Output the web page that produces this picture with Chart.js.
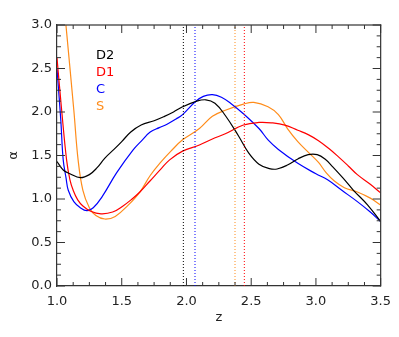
<!DOCTYPE html>
<html>
<head>
<meta charset="utf-8">
<script src="https://cdn.jsdelivr.net/npm/chart.js@4.4.0/dist/chart.umd.min.js"></script>
<style>
  html, body { margin: 0; padding: 0; background: #fff; }
</style>
</head>
<body>
<canvas id="chart" width="399" height="337"></canvas>
<script>
// series (z, alpha)
const seriesNames = ['D2', 'D1', 'C', 'S'];
const seriesColors = ['#000000', '#ff0000', '#0000ff', '#ff8c1a'];

const d2Z = [1.0, 1.05, 1.1, 1.18, 1.25, 1.31, 1.37, 1.44, 1.50, 1.57, 1.65, 1.75, 1.83, 1.90, 1.97, 2.07, 2.15, 2.22, 2.30, 2.40, 2.48, 2.56, 2.64, 2.70, 2.78, 2.86, 2.94, 3.01, 3.07, 3.13, 3.21, 3.29, 3.40, 3.50];
const d2A = [1.43, 1.33, 1.29, 1.245, 1.28, 1.36, 1.47, 1.57, 1.66, 1.77, 1.85, 1.90, 1.95, 2.00, 2.06, 2.12, 2.14, 2.10, 1.96, 1.73, 1.53, 1.40, 1.35, 1.345, 1.39, 1.46, 1.51, 1.51, 1.46, 1.37, 1.24, 1.10, 0.93, 0.74];

const d1Z = [1.0, 1.036, 1.074, 1.10, 1.125, 1.16, 1.20, 1.26, 1.34, 1.43, 1.51, 1.58, 1.64, 1.72, 1.80, 1.87, 1.97, 2.10, 2.20, 2.30, 2.44, 2.56, 2.66, 2.76, 2.86, 2.94, 3.02, 3.10, 3.17, 3.25, 3.32, 3.42, 3.50];
const d1A = [2.62, 2.02, 1.45, 1.22, 1.10, 0.99, 0.92, 0.86, 0.83, 0.85, 0.92, 1.00, 1.08, 1.21, 1.34, 1.45, 1.55, 1.62, 1.69, 1.75, 1.85, 1.88, 1.875, 1.85, 1.79, 1.74, 1.67, 1.58, 1.49, 1.38, 1.28, 1.17, 1.07];

const cZ = [1.0, 1.015, 1.03, 1.048, 1.07, 1.087, 1.13, 1.18, 1.23, 1.28, 1.35, 1.46, 1.585, 1.66, 1.72, 1.79, 1.85, 1.92, 1.97, 2.07, 2.13, 2.20, 2.27, 2.35, 2.44, 2.56, 2.63, 2.71, 2.86, 3.00, 3.09, 3.20, 3.32, 3.42, 3.50];
const cA = [2.50, 2.20, 1.89, 1.45, 1.24, 1.10, 0.97, 0.90, 0.866, 0.90, 1.03, 1.30, 1.56, 1.68, 1.77, 1.82, 1.86, 1.92, 1.97, 2.12, 2.18, 2.20, 2.17, 2.09, 1.98, 1.81, 1.68, 1.57, 1.41, 1.29, 1.22, 1.10, 0.97, 0.85, 0.74];

const sZ = [1.0, 1.069, 1.13, 1.163, 1.20, 1.25, 1.30, 1.37, 1.45, 1.55, 1.64, 1.72, 1.80, 1.88, 1.97, 2.10, 2.20, 2.30, 2.44, 2.52, 2.63, 2.71, 2.78, 2.86, 2.95, 3.02, 3.08, 3.14, 3.22, 3.32, 3.42, 3.50];
const sA = [4.1, 3.0, 2.02, 1.45, 1.10, 0.90, 0.81, 0.77, 0.80, 0.93, 1.08, 1.27, 1.42, 1.55, 1.68, 1.81, 1.95, 2.02, 2.09, 2.11, 2.06, 1.97, 1.81, 1.66, 1.525, 1.42, 1.30, 1.21, 1.13, 1.08, 1.01, 0.93];

// dotted vertical markers, same colour order as the series
const markerZ = [1.976, 2.447, 2.066, 2.375];

const xTicks = [1.0, 1.5, 2.0, 2.5, 3.0, 3.5];
const yTicks = [0.0, 0.5, 1.0, 1.5, 2.0, 2.5, 3.0];

const FONT = 'DejaVu Sans';
const AXIS = '#333';

function toPoints(xs, ys) {
    return xs.map((x, i) => ({ x: x, y: ys[i] }));
}

const curves = [[d2Z, d2A], [d1Z, d1A], [cZ, cA], [sZ, sA]];

const datasets = [];
markerZ.forEach((z, i) => {
    datasets.push({
        data: [{ x: z, y: 0 }, { x: z, y: 3 }],
        borderColor: seriesColors[i],
        borderWidth: 1,
        borderDash: [1, 2],
        tension: 0,
        pointRadius: 0
    });
});
curves.forEach(([xs, ys], i) => {
    datasets.push({
        label: seriesNames[i],
        data: toPoints(xs, ys),
        borderColor: seriesColors[i],
        borderWidth: 1.2,
        pointRadius: 0,
        tension: 0.4
    });
});

// frame and inward ticks, edges taken from the scales, plus the text legend
const frameTicks = {
    id: 'frameTicks',
    afterDraw(chart) {
        const ctx = chart.ctx;
        const sx = chart.scales.x;
        const sy = chart.scales.y;
        const L = sx.getPixelForValue(1), R = sx.getPixelForValue(3.5);
        const T = sy.getPixelForValue(3), B = sy.getPixelForValue(0);
        ctx.save();
        ctx.fillStyle = AXIS;
        ctx.fillRect(L - 0.6, T - 0.6, R - L + 1.2, 1.2);
        ctx.fillRect(R - 0.6, T - 0.6, 1.2, B - T + 1.2);
        for (let i = 0; i <= 20; i++) {
            const px = sx.getPixelForValue(1 + i * 0.125);
            const len = i % 4 === 0 ? 8 : 4;
            ctx.fillRect(px - 0.5, B - len, 1, len);
            ctx.fillRect(px - 0.5, T, 1, len);
        }
        for (let i = 0; i <= 24; i++) {
            const py = sy.getPixelForValue(i * 0.125);
            const len = i % 4 === 0 ? 8 : 4;
            ctx.fillRect(L, py - 0.5, len, 1);
            ctx.fillRect(R - len, py - 0.5, len, 1);
        }

        ctx.font = '13px "' + FONT + '"';
        ctx.textBaseline = 'middle';
        ctx.textAlign = 'left';
        seriesNames.forEach((name, i) => {
            ctx.fillStyle = seriesColors[i];
            ctx.fillText(name, 96, 56 + i * 17);
        });
        ctx.restore();
    }
};

new Chart(document.getElementById('chart'), {
    type: 'line',
    data: { datasets: datasets },
    options: {
        responsive: false,
        animation: false,
        layout: { padding: { top: 25, right: 16, left: 0, bottom: 0 } },
        plugins: { legend: { display: false }, tooltip: { enabled: false } },
        scales: {
            x: {
                type: 'linear',
                min: 1, max: 3.5,
                afterBuildTicks: s => { s.ticks = xTicks.map(v => ({ value: v })); },
                afterFit: s => { s.height = 51; },
                grid: { display: true, drawOnChartArea: false, drawTicks: false },
                border: { display: true, color: AXIS, width: 1.2 },
                ticks: {
                    padding: 8,
                    color: '#222',
                    font: { family: FONT, size: 13 },
                    callback: v => v.toFixed(1)
                },
                title: {
                    display: true, text: 'z', color: '#222',
                    font: { family: FONT, size: 13 },
                    padding: { top: 0, bottom: 12 }
                }
            },
            y: {
                type: 'linear',
                min: 0, max: 3,
                afterBuildTicks: s => { s.ticks = yTicks.map(v => ({ value: v })); },
                afterFit: s => { s.width = 57; },
                grid: { display: true, drawOnChartArea: false, drawTicks: false },
                border: { display: true, color: AXIS, width: 1.2 },
                ticks: {
                    padding: 5,
                    color: '#222',
                    font: { family: FONT, size: 13 },
                    callback: v => v.toFixed(1)
                },
                title: {
                    display: true, text: 'α', color: '#222',
                    font: { family: FONT, size: 13 },
                    padding: { top: 6, bottom: 0 }
                }
            }
        }
    },
    plugins: [frameTicks]
});
</script>
</body>
</html>
